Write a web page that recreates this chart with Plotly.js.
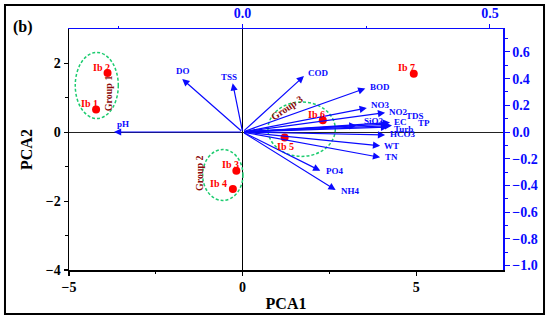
<!DOCTYPE html>
<html>
<head>
<meta charset="utf-8">
<script src="https://cdn.plot.ly/plotly-3.0.1.min.js"></script>
<style>html,body{margin:0;padding:0;background:#fff;}#chart{width:550px;height:320px;}</style>
</head>
<body>
<div id="chart"></div>
<script>
// ---- Data ----
const scoreNames = ['Ib 1', 'Ib 2', 'Ib 3', 'Ib 4', 'Ib 5', 'Ib 6', 'Ib 7'];
const scoreX = [-4.22, -3.89, -0.18, -0.28, 1.21, 2.31, 4.93];
const scoreY = [0.66, 1.72, -1.12, -1.65, -0.15, 0.35, 1.70];

const varNames = ['DO', 'TSS', 'pH', 'COD', 'BOD', 'NO3', 'NO2', 'TDS', 'SiO2', 'EC', 'Turb', 'TP', 'HCO3', 'WT', 'TN', 'PO4', 'NH4'];
const loadX = [-0.122, -0.020, -0.260, 0.124, 0.248, 0.251, 0.288, 0.298, 0.230, 0.294, 0.294, 0.302, 0.288, 0.278, 0.278, 0.157, 0.188];
const loadY = [0.397, 0.365, 0.000, 0.419, 0.327, 0.180, 0.145, 0.071, 0.049, 0.060, 0.037, 0.049, -0.022, -0.103, -0.190, -0.290, -0.434];

const groupNames = ['Group 1', 'Group 2', 'Group 3'];
const groupCx = [-4.20, -0.57, 1.70];
const groupCy = [1.36, -1.24, 0.09];
const groupRx = [0.62, 0.58, 0.97];
const groupRy = [0.96, 0.74, 0.79];
const groupLabelX = [-3.88, -1.26, 1.29];
const groupLabelY = [1.13, -1.19, 0.72];

const xTicks = [-5, 0, 5];
const yTicks = [-4, -2, 0, 2];
const x2Ticks = [0, 0.5];
const y2Ticks = [-1.0, -0.8, -0.6, -0.4, -0.2, 0.0, 0.2, 0.4, 0.6];

// ---- Layout helpers (offsets in px, not data) ----
const varLabelStyle = [
  ['center', 1, 8], ['center', -4, 6], ['center', 9, 8], ['left', 2, 3], ['left', 3, 1],
  ['left', 2, 3], ['left', 2, 1], ['left', 14, 7], ['left', 6, 4], ['left', 4, 2.5],
  ['left', 4, -2], ['left', 24, 2], ['left', 3, 1], ['left', 2, 0], ['left', 3, 0],
  ['left', 4, 0], ['left', 3, -1]
];
const scoreLabelShift = [[-7, 6], [-6, 6], [-6, 6.5], [-14, 6], [1, -9], [-6, 6], [-7, 6]];
const groupAngle = [-90, -90, -34];

const serif = 'Liberation Serif, Times New Roman, serif';
const blue = '#0a0aff';
const green = '#1ecc70';
const darkRed = '#8b0a0a';

const traces = [
  {
    x: scoreX, y: scoreY, xaxis: 'x', yaxis: 'y', type: 'scatter', mode: 'markers',
    marker: {color: '#ff0000', size: 8}, hoverinfo: 'skip', showlegend: false
  },
  {
    x: loadX, y: loadY, xaxis: 'x2', yaxis: 'y2', type: 'scatter', mode: 'markers',
    marker: {color: blue, size: 1, opacity: 0}, hoverinfo: 'skip', showlegend: false
  }
];

const annotations = [];
varNames.forEach((n, i) => {
  annotations.push({
    x: loadX[i], y: loadY[i], xref: 'x2', yref: 'y2',
    ax: 0, ay: 0, axref: 'x2', ayref: 'y2',
    text: '', showarrow: true, arrowhead: 2, arrowsize: 1.2, arrowwidth: 1.2,
    arrowcolor: blue, standoff: 0
  });
});
varNames.forEach((n, i) => {
  const s = varLabelStyle[i];
  annotations.push({
    x: loadX[i], y: loadY[i], xref: 'x2', yref: 'y2', text: n, showarrow: false,
    xanchor: s[0], yanchor: 'middle', xshift: s[1], yshift: s[2],
    font: {family: serif, size: 9, color: blue, weight: 'bold'}
  });
});
scoreNames.forEach((n, i) => {
  annotations.push({
    x: scoreX[i], y: scoreY[i], xref: 'x', yref: 'y', text: n, showarrow: false,
    xanchor: 'center', yanchor: 'middle', xshift: scoreLabelShift[i][0], yshift: scoreLabelShift[i][1],
    font: {family: serif, size: 10, color: '#ff0000', weight: 'bold'}
  });
});
groupNames.forEach((n, i) => {
  annotations.push({
    x: groupLabelX[i], y: groupLabelY[i], xref: 'x', yref: 'y', text: n, showarrow: false,
    textangle: groupAngle[i], xanchor: 'center', yanchor: 'middle',
    font: {family: serif, size: 10, color: darkRed, weight: 'bold'}
  });
});
annotations.push({
  x: -0.106, y: 1.008, xref: 'paper', yref: 'paper', text: '(b)', showarrow: false,
  xanchor: 'center', yanchor: 'middle', font: {family: serif, size: 16, color: '#000', weight: 'bold'}
});

const shapes = groupNames.map((n, i) => ({
  type: 'circle', xref: 'x', yref: 'y',
  x0: groupCx[i] - groupRx[i], x1: groupCx[i] + groupRx[i],
  y0: groupCy[i] - groupRy[i], y1: groupCy[i] + groupRy[i],
  line: {color: green, width: 1.5, dash: '3px,2px'}
}));
shapes.push({
  type: 'rect', xref: 'paper', yref: 'paper',
  x0: -0.1475, x1: 1.0945, y0: -0.1826, y1: 1.0996,
  line: {color: '#000', width: 2}
});

const tickFont = {family: serif, size: 14, color: '#000', weight: 'bold'};
const blueTickFont = {family: serif, size: 14, color: blue, weight: 'bold'};

const layout = {
  width: 550, height: 320,
  margin: {l: 69, r: 47, t: 29, b: 50},
  paper_bgcolor: '#fff', plot_bgcolor: '#fff',
  showlegend: false,
  xaxis: {
    range: [-5, 7.5], tickvals: xTicks, ticks: 'outside', ticklen: 4, tickwidth: 1.2, tickcolor: '#000',
    minor: {tickvals: [-2.5, 2.5], ticks: 'outside', ticklen: 2, tickcolor: '#000'},
    showline: true, linecolor: '#000', linewidth: 1.5, showgrid: false,
    zeroline: true, zerolinecolor: '#000', zerolinewidth: 1,
    tickfont: tickFont, automargin: false,
    title: {text: 'PCA1', font: {family: serif, size: 16, color: '#000', weight: 'bold'}, standoff: 3}
  },
  yaxis: {
    range: [-4, 3], tickvals: yTicks, ticks: 'outside', ticklen: 4, tickwidth: 1.2, tickcolor: '#000',
    minor: {tickvals: [-3, -1, 1], ticks: 'outside', ticklen: 3, tickcolor: '#000'},
    showline: true, linecolor: '#000', linewidth: 1.5, showgrid: false,
    zeroline: true, zerolinecolor: '#222', zerolinewidth: 1,
    tickfont: tickFont, automargin: false,
    title: {text: 'PCA2', font: {family: serif, size: 16, color: '#000', weight: 'bold'}, standoff: 9}
  },
  xaxis2: {
    overlaying: 'x', side: 'top', anchor: 'y',
    range: [-0.3509, 0.5263], tickvals: x2Ticks, tickformat: '.1f', ticks: 'outside', ticklen: 4, tickcolor: blue,
    minor: {tickvals: [-0.25, 0.25], ticks: 'outside', ticklen: 2, tickcolor: blue},
    showline: true, linecolor: blue, linewidth: 1.5, showgrid: false, zeroline: false,
    tickfont: blueTickFont, automargin: false
  },
  yaxis2: {
    overlaying: 'y', side: 'right', anchor: 'x',
    range: [-1.034, 0.772], tickvals: y2Ticks, tickformat: '.1f', ticks: 'outside', ticklen: 5, tickcolor: blue,
    minor: {dtick: 0.1, tick0: 0, ticks: 'outside', ticklen: 3, tickcolor: blue},
    showline: true, linecolor: blue, linewidth: 1.5, showgrid: false, zeroline: false,
    tickfont: blueTickFont, automargin: false
  },
  annotations: annotations,
  shapes: shapes
};

Plotly.newPlot('chart', traces, layout, {staticPlot: true, displayModeBar: false});
</script>
</body>
</html>
